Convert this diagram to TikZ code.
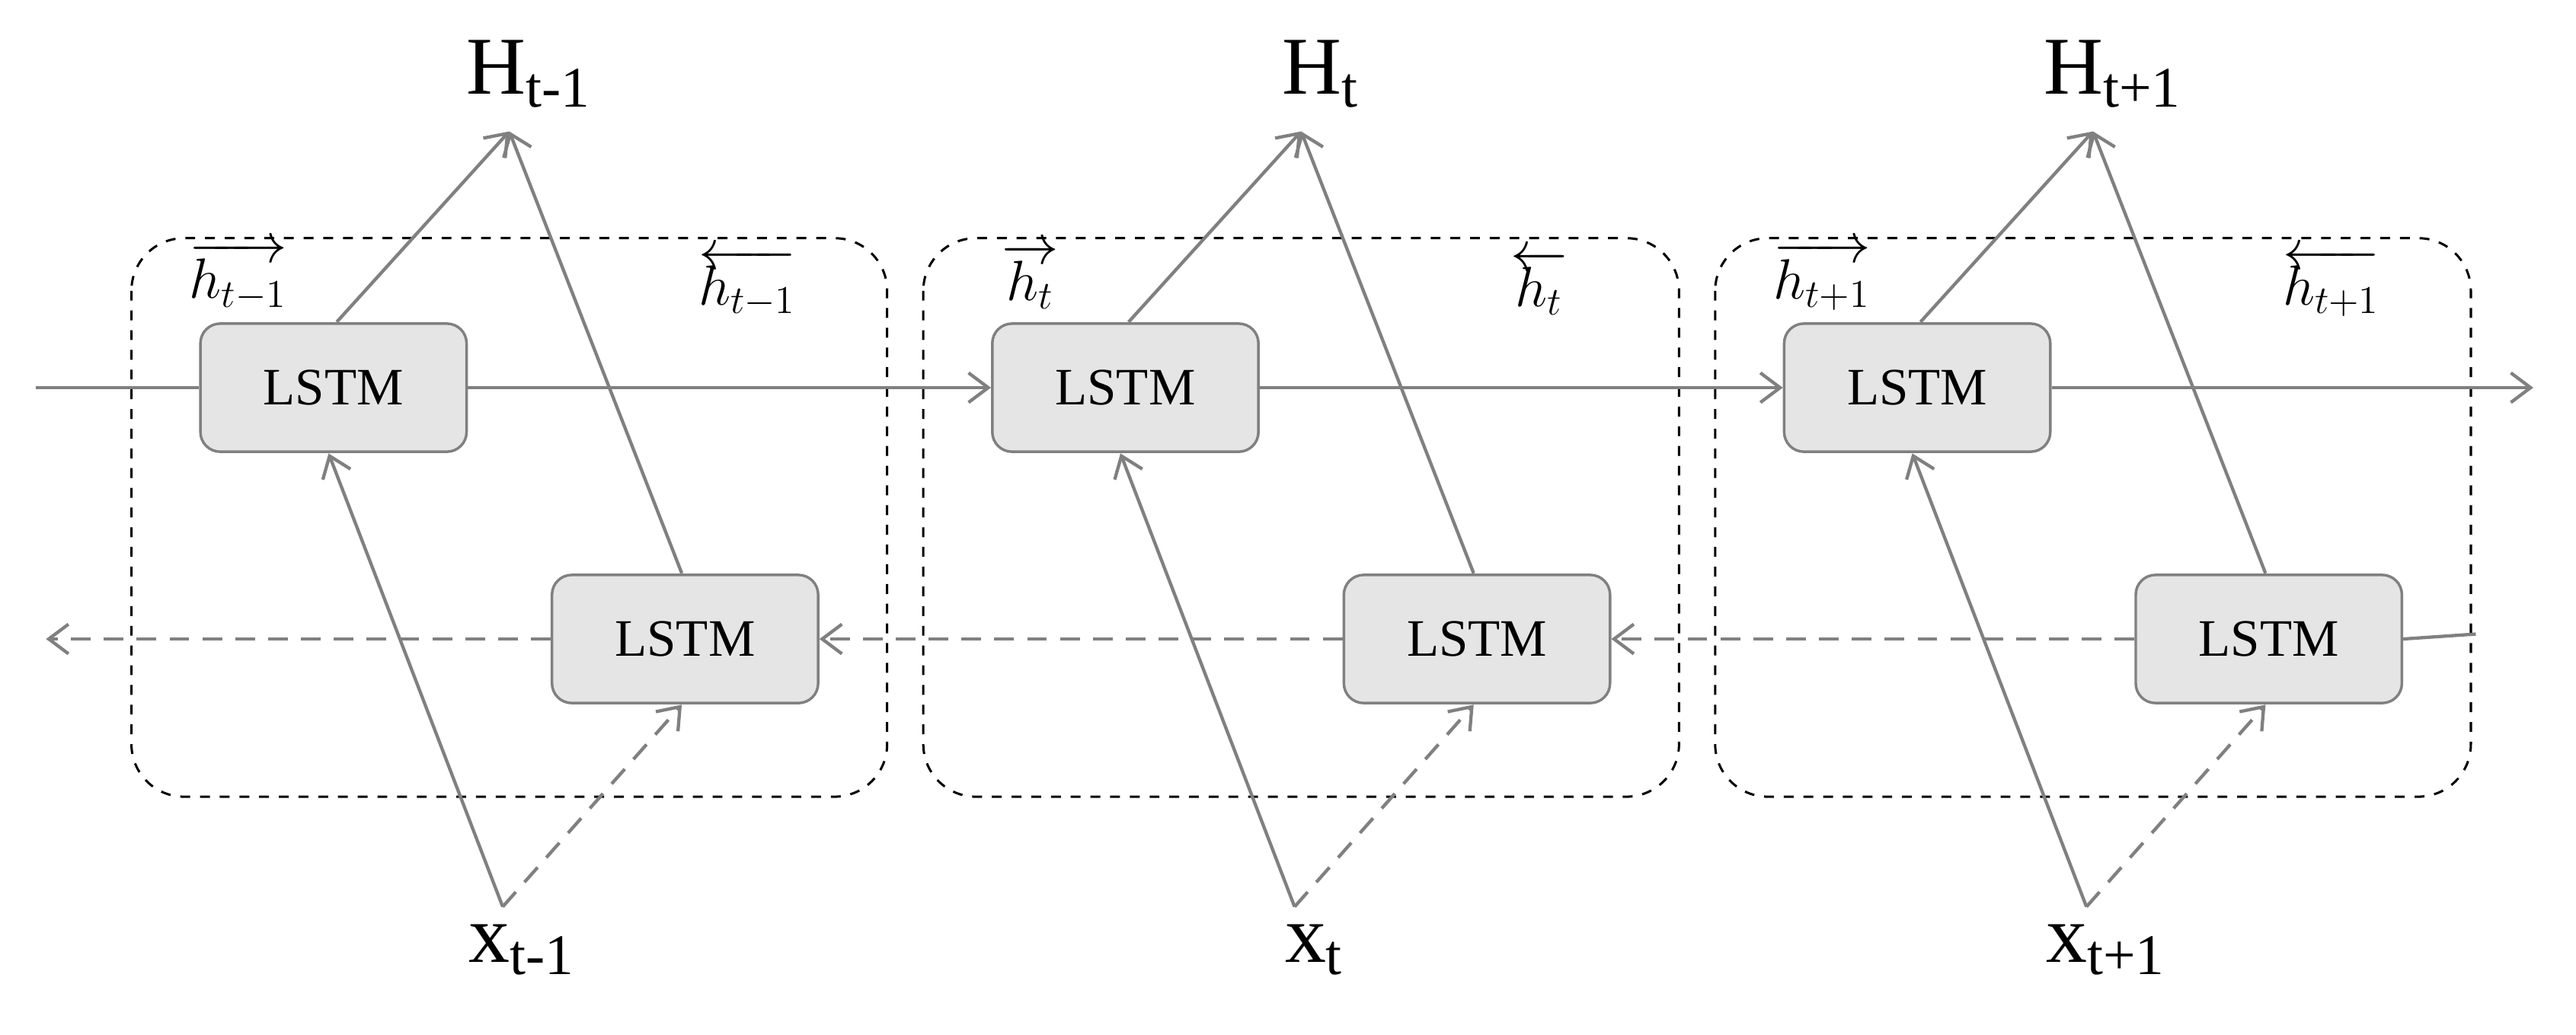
\documentclass[tikz,border=0pt]{standalone}
\usepackage{fontspec}
\setmainfont{Liberation Serif}
\usetikzlibrary{arrows.meta}
\begin{document}
\begin{tikzpicture}[x=0.5pt,y=-0.5pt,
 cell/.style={draw=black!50,fill=black!10,rounded corners=6pt,minimum width=81pt,minimum height=39pt,line width=0.8pt,font=\fontsize{16}{16}\selectfont},
 grp/.style={draw=black,dashed,line width=0.7pt,rounded corners=16pt},
 con/.style={draw=black!50,line width=1pt,-{Straight Barb[length=6pt,width=9pt]}},
 dcon/.style={con,dash pattern=on 6pt off 4pt},
 lab/.style={inner sep=0pt,font=\fontsize{17}{17}\selectfont},
 big/.style={font=\fontsize{25}{25}\selectfont,inner sep=0pt}]
\useasboundingbox (0,0) rectangle (1568,630);
\foreach \i/\s/\n in {0/{t-1}/a,1/{t}/b,2/{t+1}/c}{
 \begin{scope}[xshift=\i*482*0.5pt]
  \draw[grp] (80,145) rectangle (540,485);
  \node[cell] (f\n) at (203,236) {LSTM};
  \node[cell] (g\n) at (417,389) {LSTM};
  \node[big] (H\n) at (322,45) {H\textsubscript{\s}};
  \node[big] (X\n) at (318,578) {x\textsubscript{\s}};
  \node[lab] (hf\n) at (145,168) {$\overrightarrow{h_{\s}}$};
  \node[lab] (hb\n) at (455,172) {$\overleftarrow{h_{\s}}$};
  \coordinate (Ht\n) at (310,80);
  \coordinate (xs\n) at (306,552);
  \coordinate (fb\n) at (200,276);
  \coordinate (ft\n) at (205,196);
  \coordinate (gb\n) at (415,429);
  \coordinate (gt\n) at (415,349);
  \draw[con] (xs\n) -- (fb\n);
  \draw[dcon] (xs\n) -- (gb\n);
  \draw[con] (ft\n) -- (Ht\n);
  \draw[con] (gt\n) -- (Ht\n);
 \end{scope}}
\coordinate (L) at (22,236);
\coordinate (R) at (1542,236);
\coordinate (BL) at (28,389);
\coordinate (BR) at (1507,386);
\draw[con,-] (L) -- (fa);
\draw[con] (fa) -- (fb);
\draw[con] (fb) -- (fc);
\draw[con] (fc) -- (R);
\draw[con,-] (gc.east) -- (BR);
\draw[dcon] (gc) -- (gb);
\draw[dcon] (gb) -- (ga);
\draw[dcon] (ga) -- (BL);
\end{tikzpicture}
\end{document}
